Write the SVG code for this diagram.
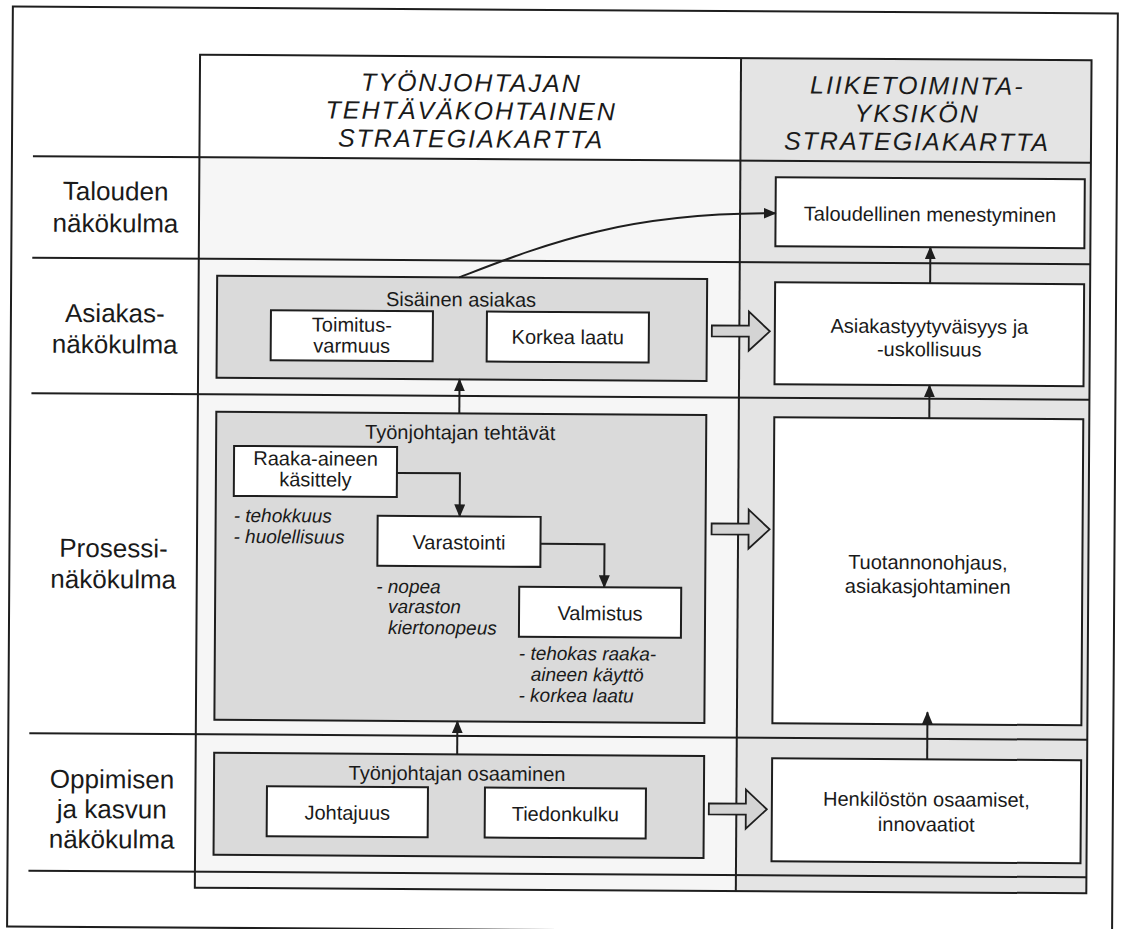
<svg xmlns="http://www.w3.org/2000/svg" width="1122" height="929" viewBox="0 0 1122 929">
<style>
.ln{stroke:#1e1e1e;stroke-width:2;fill:none}
.box{fill:#fff;stroke:#1e1e1e;stroke-width:2}
.gbox{fill:#dadada;stroke:#1e1e1e;stroke-width:2}
text{font-family:"Liberation Sans",Arial,sans-serif;fill:#1a1a1a}
.t{font-size:20px;text-anchor:middle}
.lab{font-size:26px;text-anchor:middle}
.hd{font-size:25px;font-style:italic;text-anchor:middle;letter-spacing:2px}
.note{font-size:19px;font-style:italic}
.con{stroke:#1e1e1e;stroke-width:2;fill:none}
.blk{fill:#d4d4d4;stroke:#1e1e1e;stroke-width:1.8;stroke-linejoin:miter}
</style>
<defs>
<marker id="ah" markerUnits="userSpaceOnUse" markerWidth="13" markerHeight="11" refX="12" refY="5.5" orient="auto">
<path d="M0,0 L13,5.5 L0,11 z" fill="#1e1e1e"/>
</marker>
<path id="blockArrow" d="M-58,-5.5 L-21,-5.5 L-21,-19.5 L0,0 L-21,19.5 L-21,5.5 L-58,5.5 Z"/>
</defs>
<rect width="1122" height="929" fill="#fff"/>
<g transform="rotate(0.36 561 464)">
<g id="frame">
<rect x="10" y="10" width="1105" height="920" class="ln"/>
<rect x="197.5" y="159.5" width="541" height="730.5" fill="#f6f6f6"/>
<rect x="738.5" y="57" width="350.5" height="833" fill="#e4e4e4"/>
<rect x="197.5" y="57" width="891.5" height="833" class="ln"/>
<line x1="738.5" y1="57" x2="738.5" y2="890" class="ln"/>
<line x1="31" y1="159.5" x2="1089" y2="159.5" class="ln"/>
<line x1="31" y1="261" x2="1089" y2="261" class="ln"/>
<line x1="31" y1="396.5" x2="1089" y2="396.5" class="ln"/>
<line x1="31" y1="736.5" x2="1089" y2="736.5" class="ln"/>
<line x1="31" y1="874" x2="1089" y2="874" class="ln"/>
</g>
<g id="header-left">
<text class="hd" x="469" y="92">TYÖNJOHTAJAN</text>
<text class="hd" x="469" y="120">TEHTÄVÄKOHTAINEN</text>
<text class="hd" x="469" y="148">STRATEGIAKARTTA</text>
</g>
<g id="header-right">
<text class="hd" x="915" y="92">LIIKETOIMINTA-</text>
<text class="hd" x="915" y="120">YKSIKÖN</text>
<text class="hd" x="915" y="148">STRATEGIAKARTTA</text>
</g>
<g id="label-talous">
<text class="lab" x="114" y="203">Talouden</text>
<text class="lab" x="114" y="235">näkökulma</text>
</g>
<g id="label-asiakas">
<text class="lab" x="114" y="325">Asiakas-</text>
<text class="lab" x="114" y="356">näkökulma</text>
</g>
<g id="label-prosessi">
<text class="lab" x="114" y="560">Prosessi-</text>
<text class="lab" x="114" y="591">näkökulma</text>
</g>
<g id="label-oppiminen">
<text class="lab" x="114" y="791">Oppimisen</text>
<text class="lab" x="114" y="821">ja kasvun</text>
<text class="lab" x="114" y="851">näkökulma</text>
</g>
<g id="sisainen-asiakas">
<rect x="216" y="278" width="490" height="102" class="gbox"/>
<text class="t" x="460" y="307">Sisäinen asiakas</text>
</g>
<g id="toimitusvarmuus">
<rect x="270" y="312" width="162" height="50" class="box"/>
<text class="t" x="351" y="333">Toimitus-</text>
<text class="t" x="351" y="354">varmuus</text>
</g>
<g id="korkea-laatu">
<rect x="486" y="312" width="162" height="50" class="box"/>
<text class="t" x="567" y="344">Korkea laatu</text>
</g>
<g id="tehtavat">
<rect x="216" y="414" width="490" height="308" class="gbox"/>
<text class="t" x="460" y="440">Työnjohtajan tehtävät</text>
</g>
<g id="raaka-aine">
<rect x="234" y="448" width="163" height="50" class="box"/>
<text class="t" x="315.5" y="467">Raaka-aineen</text>
<text class="t" x="315.5" y="488">käsittely</text>
<text class="note" x="234" y="524">- tehokkuus</text>
<text class="note" x="234" y="545">- huolellisuus</text>
</g>
<g id="varastointi">
<rect x="378" y="517" width="163" height="50" class="box"/>
<text class="t" x="459.5" y="550">Varastointi</text>
<text class="note" x="377" y="594">- nopea</text>
<text class="note" x="389" y="614">varaston</text>
<text class="note" x="389" y="635">kiertonopeus</text>
</g>
<g id="valmistus">
<rect x="520" y="587" width="162" height="50" class="box"/>
<text class="t" x="601" y="620">Valmistus</text>
<text class="note" x="520" y="660">- tehokas raaka-</text>
<text class="note" x="532" y="681">aineen käyttö</text>
<text class="note" x="520" y="702">- korkea laatu</text>
</g>
<g id="osaaminen">
<rect x="216" y="755" width="490" height="102" class="gbox"/>
<text class="t" x="459" y="781">Työnjohtajan osaaminen</text>
</g>
<g id="johtajuus">
<rect x="269" y="788" width="161" height="50" class="box"/>
<text class="t" x="349.5" y="821">Johtajuus</text>
</g>
<g id="tiedonkulku">
<rect x="487" y="788" width="161" height="50" class="box"/>
<text class="t" x="567.5" y="821">Tiedonkulku</text>
</g>
<g id="taloudellinen-menestyminen">
<rect x="774" y="176" width="309" height="69" class="box"/>
<text class="t" x="928.5" y="219">Taloudellinen menestyminen</text>
</g>
<g id="asiakastyytyvaisyys">
<rect x="774" y="281" width="309" height="102" class="box"/>
<text class="t" x="928.5" y="331">Asiakastyytyväisyys ja</text>
<text class="t" x="928.5" y="354">-uskollisuus</text>
</g>
<g id="tuotannonohjaus">
<rect x="774" y="416" width="309" height="306" class="box"/>
<text class="t" x="928.5" y="567">Tuotannonohjaus,</text>
<text class="t" x="928.5" y="591">asiakasjohtaminen</text>
</g>
<g id="henkiloston-osaamiset">
<rect x="774" y="757" width="309" height="103" class="box"/>
<text class="t" x="928.5" y="804">Henkilöstön osaamiset,</text>
<text class="t" x="928.5" y="829">innovaatiot</text>
</g>
<g id="connectors">
<path class="con" d="M458,278 C540,246 620,212 774,212" marker-end="url(#ah)"/>
<path class="con" d="M397,474 H460 V517" marker-end="url(#ah)"/>
<path class="con" d="M541,544 H605 V587" marker-end="url(#ah)"/>
<path class="con" d="M459,414 V380" marker-end="url(#ah)"/>
<path class="con" d="M459,755 V722" marker-end="url(#ah)"/>
<path class="con" d="M929,281 V245" marker-end="url(#ah)"/>
<path class="con" d="M929,416 V383" marker-end="url(#ah)"/>
<path class="con" d="M929,757 V710" marker-end="url(#ah)"/>
<use href="#blockArrow" class="blk" transform="translate(769,330)"/>
<use href="#blockArrow" class="blk" transform="translate(770,528)"/>
<use href="#blockArrow" class="blk" transform="translate(769,808)"/>
</g>
</g>
</svg>
